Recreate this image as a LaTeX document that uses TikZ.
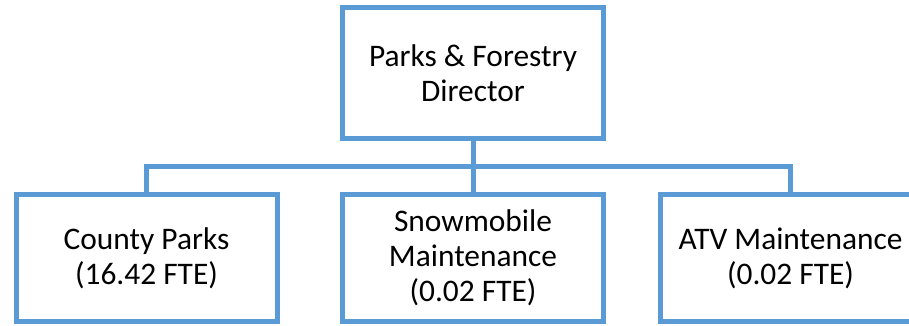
\documentclass[tikz,border=0pt]{standalone}
\usepackage{fontspec}
\setmainfont{Carlito}
\definecolor{boxblue}{RGB}{91,155,213}
\begin{document}
\begin{tikzpicture}[x=1pt,y=-1pt,
  orgbox/.style={draw=boxblue,line width=5pt,fill=white,rectangle,inner sep=0pt,outer sep=0pt,
    minimum width=261pt,align=center,font=\fontsize{31.4}{35}\selectfont},
  conn/.style={draw=boxblue,line width=5pt}]
\useasboundingbox (0,0) rectangle (909,325);
\clip (0,0) rectangle (909,325);
\node[orgbox,minimum height=131pt] (dir) at (473,73) {Parks \& Forestry\\Director};
\node[orgbox,minimum height=127pt] (cp) at (146.5,258) {County Parks\\(16.42 FTE)};
\node[orgbox,minimum height=127pt] (sm) at (473,258) {Snowmobile\\Maintenance\\(0.02 FTE)};
\node[orgbox,minimum height=127pt] (atv) at (790.5,258) {ATV Maintenance\\(0.02 FTE)};
\coordinate (bus) at (473,166);
\draw[conn] (cp.north) |- (bus) -| (atv.north);
\draw[conn] (dir.south) -- (sm.north);
\end{tikzpicture}
\end{document}
